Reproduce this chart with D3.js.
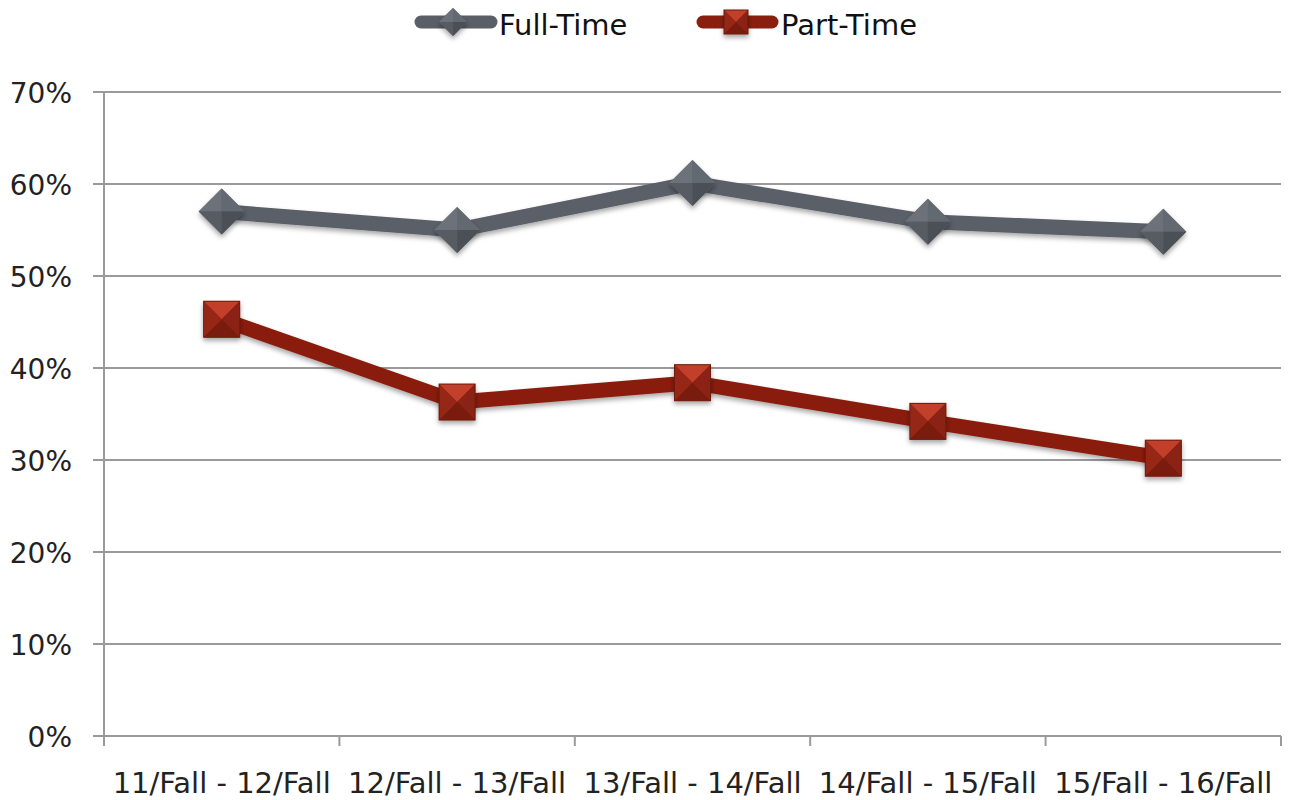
<!DOCTYPE html>
<html><head><meta charset="utf-8">
<script src="https://cdn.jsdelivr.net/npm/d3@7"></script>
<style>body{margin:0;background:#fff;} svg{display:block;font-family:"DejaVu Sans",sans-serif;}</style>
</head><body>
<svg id="c" width="1289" height="800"></svg>
<script>
const categories = ["11/Fall - 12/Fall","12/Fall - 13/Fall","13/Fall - 14/Fall","14/Fall - 15/Fall","15/Fall - 16/Fall"];
const fullTime = [0.570, 0.550, 0.601, 0.559, 0.548];
const partTime = [0.453, 0.363, 0.384, 0.342, 0.302];
const yTicks = [0, 0.1, 0.2, 0.3, 0.4, 0.5, 0.6, 0.7];
const seriesNames = ["Full-Time", "Part-Time"];

(function(){
const svg = d3.select("#c");
const mLeft = 104, mRight = 1281, mTop = 92, mBottom = 736;
const x = d3.scaleBand().domain(categories).range([mLeft, mRight]);
const y = d3.scaleLinear().domain([0, 0.7]).range([mBottom, mTop]);

const defs = svg.append("defs");
const f = defs.append("filter").attr("id","sh").attr("x","-50%").attr("y","-50%").attr("width","200%").attr("height","200%");
f.append("feDropShadow").attr("dx",0).attr("dy",3).attr("stdDeviation",2.5).attr("flood-color","#000").attr("flood-opacity",0.35);

// gridlines
svg.append("g").selectAll("line").data(yTicks).join("line")
  .attr("x1", mLeft - 11).attr("x2", mRight).attr("y1", d => y(d)).attr("y2", d => y(d))
  .attr("stroke", "#9a9a9a").attr("stroke-width", 2);

// y axis line
svg.append("line").attr("x1", mLeft).attr("x2", mLeft).attr("y1", mTop).attr("y2", mBottom + 10)
  .attr("stroke", "#9a9a9a").attr("stroke-width", 2);

// x axis ticks
const xb = [...categories.map(c => x(c)), mRight];
svg.append("g").selectAll("line").data(xb).join("line")
  .attr("x1", d => d).attr("x2", d => d).attr("y1", mBottom).attr("y2", mBottom + 10)
  .attr("stroke", "#9a9a9a").attr("stroke-width", 2);

// y labels
svg.append("g").selectAll("text").data(yTicks).join("text")
  .attr("x", 72).attr("y", d => y(d) + 11).attr("text-anchor", "end")
  .attr("font-size", 28).attr("fill", "#222").text(d3.format(".0%"));

// x labels
svg.append("g").selectAll("text").data(categories).join("text")
  .attr("x", d => x(d) + x.bandwidth()/2).attr("y", 793).attr("text-anchor", "middle")
  .attr("font-size", 29).attr("fill", "#222").text(d => d);

const cx = (d, i) => x(categories[i]) + x.bandwidth()/2;
const line = d3.line().x((d, i) => cx(d, i)).y(d => y(d));

const grayC = "#5a5f67", redC = "#8a1f0f";

function diamond(g, px, py, r) {
  const gg = g.append("g").attr("transform", `translate(${px},${py})`).attr("filter","url(#sh)");
  gg.append("path").attr("d", `M0,${-r}L${r},0L0,${r}L${-r},0Z`).attr("fill", "#5e636b");
  gg.append("path").attr("d", `M0,${-r}L${-r},0L0,0Z`).attr("fill", "#6d727a");
  gg.append("path").attr("d", `M0,${-r}L${r},0L0,0Z`).attr("fill", "#646971");
  gg.append("path").attr("d", `M0,${r}L${-r},0L0,0Z`).attr("fill", "#565b62");
  gg.append("path").attr("d", `M0,${r}L${r},0L0,0Z`).attr("fill", "#4c5057");
}
function square(g, px, py, h) {
  const gg = g.append("g").attr("transform", `translate(${px},${py})`).attr("filter","url(#sh)");
  gg.append("rect").attr("x", -h).attr("y", -h).attr("width", 2*h).attr("height", 2*h).attr("fill", "#8f2413");
  gg.append("path").attr("d", `M${-h},${-h}L${h},${-h}L0,0Z`).attr("fill", "#c2412c");
  gg.append("path").attr("d", `M${-h},${-h}L${-h},${h}L0,0Z`).attr("fill", "#962818");
  gg.append("path").attr("d", `M${h},${-h}L${h},${h}L0,0Z`).attr("fill", "#8a2212");
  gg.append("path").attr("d", `M${-h},${h}L${h},${h}L0,0Z`).attr("fill", "#7a1d0f");
  gg.append("rect").attr("x", -h).attr("y", -h).attr("width", 2*h).attr("height", 2*h).attr("fill", "none").attr("stroke","#6d1a0c").attr("stroke-width",1);
}

// series
const gFT = svg.append("g");
gFT.append("path").datum(fullTime).attr("d", line).attr("fill", "none")
  .attr("stroke", grayC).attr("stroke-width", 15).attr("stroke-linejoin", "round").attr("filter","url(#sh)");
fullTime.forEach((d, i) => diamond(gFT, cx(d, i), y(d), 23));

const gPT = svg.append("g");
gPT.append("path").datum(partTime).attr("d", line).attr("fill", "none")
  .attr("stroke", redC).attr("stroke-width", 15).attr("stroke-linejoin", "round").attr("filter","url(#sh)");
partTime.forEach((d, i) => square(gPT, cx(d, i), y(d), 18));

// legend
const lg = svg.append("g");
lg.append("line").attr("x1", 421).attr("x2", 491).attr("y1", 22).attr("y2", 22)
  .attr("stroke", grayC).attr("stroke-width", 13).attr("stroke-linecap", "round");
diamond(lg, 453, 22, 14);
lg.append("text").attr("x", 499).attr("y", 35).attr("font-size", 29).attr("fill", "#111").text(seriesNames[0]);
lg.append("line").attr("x1", 703).attr("x2", 772).attr("y1", 22).attr("y2", 22)
  .attr("stroke", redC).attr("stroke-width", 13).attr("stroke-linecap", "round");
square(lg, 736, 22, 12);
lg.append("text").attr("x", 781).attr("y", 35).attr("font-size", 29).attr("fill", "#111").text(seriesNames[1]);
})();
</script>
</body></html>
